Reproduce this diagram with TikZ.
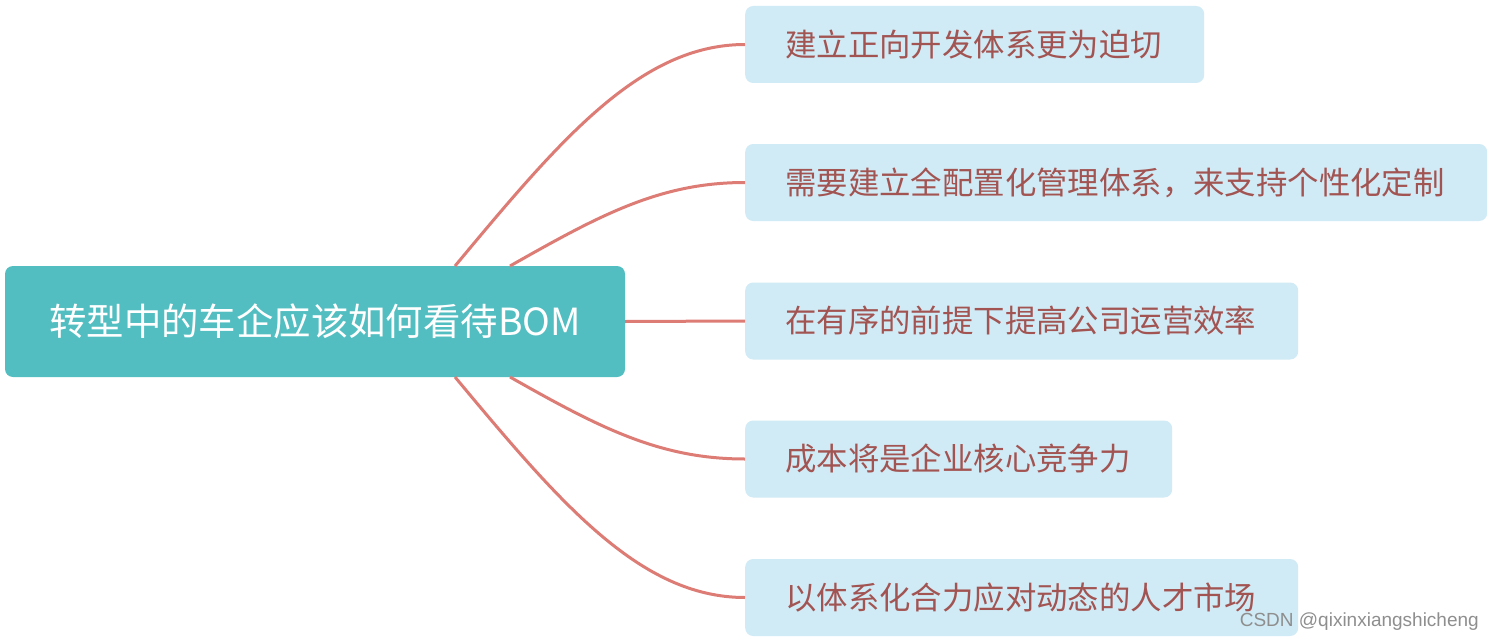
\documentclass[tikz,border=0pt]{standalone}
\usepackage{fontspec}
\newfontfamily\cjk{Noto Sans CJK SC}
\newfontfamily\wm{Liberation Sans}
\definecolor{mainfill}{HTML}{52BEC1}
\definecolor{kidfill}{HTML}{D0EBF5}
\definecolor{kidtext}{HTML}{A25452}
\definecolor{linkcol}{HTML}{DD7B75}
\definecolor{wmcol}{HTML}{8E8E8E}
\tikzset{
  mainbox/.style={rectangle, rounded corners=8pt, fill=mainfill, text=white,
    minimum width=620pt, minimum height=111pt, inner sep=0pt,
    font=\cjk\fontsize{37.4}{44}\selectfont},
  kidbox/.style={rectangle, rounded corners=8pt, fill=kidfill, text=kidtext,
    minimum height=77pt, inner xsep=40pt, inner ysep=0pt, align=left, anchor=west,
    font=\cjk\fontsize{31.4}{36}\selectfont},
  link/.style={draw=linkcol, line width=3pt},
  watermark/.style={text=wmcol, font=\wm\fontsize{19}{22}\selectfont, inner sep=0pt, anchor=east}
}
\begin{document}
\begin{tikzpicture}[x=1pt,y=-1pt]
\useasboundingbox (0,0) rectangle (1494,642);
\coordinate (s1) at (455,266);
\coordinate (s2) at (510,266);
\coordinate (s4) at (510,377);
\coordinate (s5) at (455,377);
\node[kidbox, text width=379pt] (c1) at (745,44.5) {建立正向开发体系更为迫切};
\node[kidbox, text width=662pt] (c2) at (745,182.5) {需要建立全配置化管理体系，来支持个性化定制};
\node[kidbox, text width=473pt] (c3) at (745,321) {在有序的前提下提高公司运营效率};
\node[kidbox, text width=347pt] (c4) at (745,459) {成本将是企业核心竞争力};
\node[kidbox, text width=473pt] (c5) at (745,597.5) {以体系化合力应对动态的人才市场};
\node[mainbox] (main) at (315,321.5) {转型中的车企应该如何看待BOM};
\draw[link] (s1) .. controls (560,140) and (640,44.5) .. (c1.west);
\draw[link] (s2) .. controls (600,215) and (660,182.5) .. (c2.west);
\draw[link] (main.east) -- (c3.west);
\draw[link] (s4) .. controls (600,428) and (660,459) .. (c4.west);
\draw[link] (s5) .. controls (560,503) and (640,597.5) .. (c5.west);
\node[watermark] (wm) at (1479,622) {CSDN @qixinxiangshicheng};
\end{tikzpicture}
\end{document}
